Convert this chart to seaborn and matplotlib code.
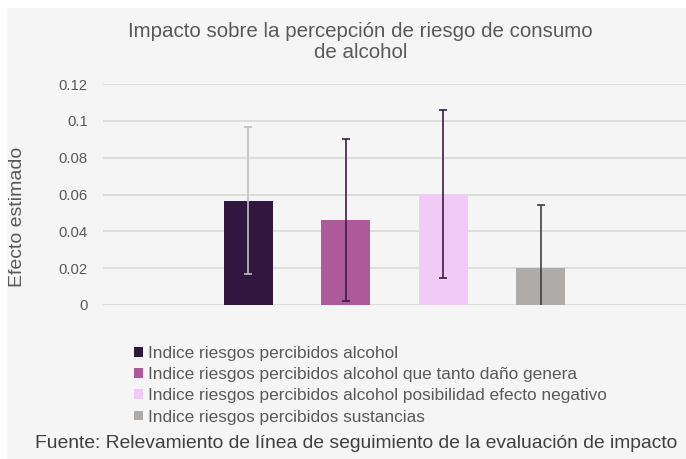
import matplotlib
matplotlib.use("Agg")
import matplotlib.pyplot as plt
from matplotlib.patches import Rectangle
import seaborn as sns
import pandas as pd

# ---- data ----
series = [
    "Indice riesgos percibidos alcohol",
    "Indice riesgos percibidos alcohol que tanto daño genera",
    "Indice riesgos percibidos alcohol posibilidad efecto negativo",
    "Indice riesgos percibidos sustancias",
]
values = [0.0566, 0.0463, 0.0601, 0.0201]
errors = [0.0400, 0.0440, 0.0456, 0.0342]
bar_colors = ["#31163f", "#ad5a9b", "#efcbf6", "#afaba9"]
err_colors = ["#bfbfbf", "#3b1c47", "#3b1c47", "#404040"]
yticks = [0, 0.02, 0.04, 0.06, 0.08, 0.10, 0.12]
ytick_labels = ["0", "0.02", "0.04", "0.06", "0.08", "0.1", "0.12"]
title = "Impacto sobre la percepción de riesgo de consumo\nde alcohol"
ylabel = "Efecto estimado"
source = "Fuente: Relevamiento de línea de seguimiento de la evaluación de impacto"

sns.set_theme(style="white")
plt.rcParams["font.family"] = ["Liberation Sans", "DejaVu Sans"]

W, H = 686, 459
fig = plt.figure(figsize=(W / 100, H / 100), dpi=100)
fig.patch.set_facecolor("white")
fig.patches.append(Rectangle((7 / W, 0), 1 - 7 / W, 1 - 8 / H,
                             transform=fig.transFigure, facecolor="#f5f5f5",
                             edgecolor="none", zorder=-10))

ax = fig.add_axes([103 / W, (H - 305) / H, (W - 103) / W, 221 / H])
ax.set_facecolor("none")

df = pd.DataFrame({"grupo": [""] * len(series), "serie": series, "efecto": values})
sns.barplot(data=df, x="grupo", y="efecto", hue="serie", hue_order=series,
            palette=bar_colors, width=0.8, gap=0.5, errorbar=None,
            saturation=1, linewidth=0, ax=ax, legend=True)

for cont, err, ec in zip(ax.containers, errors, err_colors):
    bar = cont[0]
    ax.errorbar(bar.get_x() + bar.get_width() / 2, bar.get_height(), yerr=err,
                fmt="none", ecolor=ec, elinewidth=1.2, capsize=3.2, capthick=1.2,
                zorder=5)

ax.set_xlim(-0.598, 0.598)
ax.set_ylim(0, 0.12)
ax.set_yticks(yticks)
ax.set_yticklabels(ytick_labels)
ax.set_xticks([])
ax.set_xlabel("")
ax.tick_params(axis="y", length=0, pad=11, labelsize=10.7, labelcolor="#595959")
ax.yaxis.grid(True, color="#d9d9d9", linewidth=1.2)
ax.set_axisbelow(True)
for s in ax.spines.values():
    s.set_visible(False)
ax.set_ylabel(ylabel, fontsize=14, color="#595959")
ax.yaxis.set_label_coords((26 - 103) / 583, (305 - 217) / 221)

handles, labels = ax.get_legend_handles_labels()
ax.legend(handles, labels, loc="upper left",
          bbox_to_anchor=(134 / W, 1 - 346 / H), bbox_transform=fig.transFigure,
          frameon=False, fontsize=12.4, labelcolor="#595959",
          handlelength=0.5, handleheight=0.5, handletextpad=0.3,
          labelspacing=0.36, borderpad=0, borderaxespad=0)

fig.text(360.5 / W, 1 - 42 / H, title, ha="center", va="center",
         fontsize=14.8, color="#595959", linespacing=1.15)
fig.text(35 / W, 1 - 444 / H, source, ha="left", va="center",
         fontsize=13.85, color="#404040")

fig.savefig("out.png", dpi=100, facecolor=fig.get_facecolor())
